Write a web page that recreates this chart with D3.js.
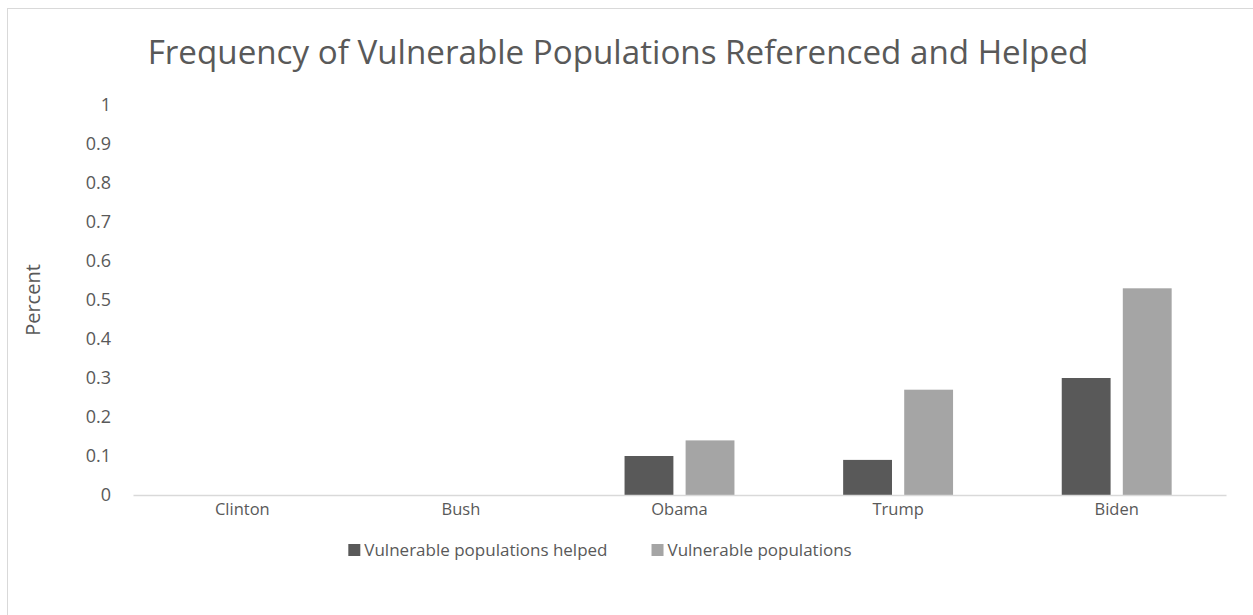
<!DOCTYPE html>
<html>
<head>
<meta charset="utf-8">
<script src="https://cdn.jsdelivr.net/npm/d3@7"></script>
<style>
  html, body { margin: 0; padding: 0; background: #fff; }
  svg { display: block; }
  text { font-family: "Open Sans", Lato, sans-serif; fill: #595959; }
</style>
</head>
<body>
<svg id="chart" width="1253" height="615"></svg>
<script>
const categories = ["Clinton", "Bush", "Obama", "Trump", "Biden"];
const seriesNames = ["Vulnerable populations helped", "Vulnerable populations"];
const helped = [0, 0, 0.10, 0.09, 0.30];
const referenced = [0, 0, 0.14, 0.27, 0.53];
const yTicks = [0, 0.1, 0.2, 0.3, 0.4, 0.5, 0.6, 0.7, 0.8, 0.9, 1];
const colors = ["#595959", "#a5a5a5"];

const svg = d3.select("#chart");
const W = 1253, H = 615;
const margin = {top: 105, right: 27, bottom: 120, left: 133};

// chart border (right / bottom fall outside the picture)
svg.append("rect")
    .attr("x", 7.5).attr("y", 8.5)
    .attr("width", W).attr("height", H)
    .attr("fill", "#fff")
    .attr("stroke", "#d9d9d9");

const x = d3.scaleBand()
    .domain(categories)
    .range([margin.left, W - margin.right]);

// two bars of ~49px with a ~12px gap inside each category
const x1 = d3.scaleBand()
    .domain(seriesNames)
    .range([0, x.bandwidth()])
    .paddingInner(0.2)
    .paddingOuter(0.89);

const y = d3.scaleLinear()
    .domain([0, 1])
    .range([H - margin.bottom, margin.top]);

// title
const title = svg.append("text")
    .attr("x", 618).attr("y", 64)
    .attr("text-anchor", "middle")
    .attr("font-size", 30)
    .text("Frequency of Vulnerable Populations Referenced and Helped");
// fit to the width seen in the picture
const tl = title.node().getComputedTextLength();
title.attr("font-size", 30 * 941 / tl);

// y axis (labels only)
const yAxis = svg.append("g")
    .attr("transform", `translate(${margin.left},0)`)
    .call(d3.axisLeft(y).tickValues(yTicks).tickSize(0).tickPadding(22)
        .tickFormat(d => String(+d.toFixed(1))));
yAxis.select(".domain").remove();
yAxis.selectAll("text")
    .attr("font-size", 18)
    .attr("fill", "#595959")
    .style("font-family", "'Open Sans', Lato, sans-serif");

// bars
const groups = svg.append("g")
    .selectAll("g")
    .data(categories)
    .join("g")
    .attr("transform", d => `translate(${x(d)},0)`);

groups.selectAll("rect")
    .data((d, i) => [helped[i], referenced[i]].map((v, j) => ({key: seriesNames[j], value: v, j})))
    .join("rect")
    .attr("x", d => x1(d.key))
    .attr("width", x1.bandwidth())
    .attr("y", d => y(d.value))
    .attr("height", d => y(0) - y(d.value))
    .attr("fill", d => colors[d.j]);

// x axis
const xAxis = svg.append("g")
    .attr("transform", `translate(0,${y(0)})`)
    .call(d3.axisBottom(x).tickSize(0).tickPadding(8));
xAxis.select(".domain")
    .attr("stroke", "#d9d9d9")
    .attr("stroke-width", 1.5);
xAxis.selectAll("text")
    .attr("font-size", 16.5)
    .attr("fill", "#595959")
    .style("font-family", "'Open Sans', Lato, sans-serif");

// y axis title
svg.append("text")
    .attr("transform", "translate(40,300) rotate(-90)")
    .attr("text-anchor", "middle")
    .attr("font-size", 20)
    .text("Percent");

// legend, laid out side by side
const legend = svg.append("g").attr("transform", "translate(0,550)");
const items = legend.selectAll("g")
    .data(seriesNames)
    .join("g");
items.append("rect")
    .attr("x", 0).attr("y", -6)
    .attr("width", 12).attr("height", 12)
    .attr("fill", (d, i) => colors[i]);
items.append("text")
    .attr("x", 16).attr("y", 6)
    .attr("font-size", 17)
    .text(d => d);
let offset = 0;
const itemGap = 44;
items.each(function () {
    const w = this.getBBox().width;
    d3.select(this).attr("transform", `translate(${offset},0)`);
    offset += w + itemGap;
});
const totalW = offset - itemGap;
legend.attr("transform", `translate(${600 - totalW / 2},550)`);
</script>
</body>
</html>
